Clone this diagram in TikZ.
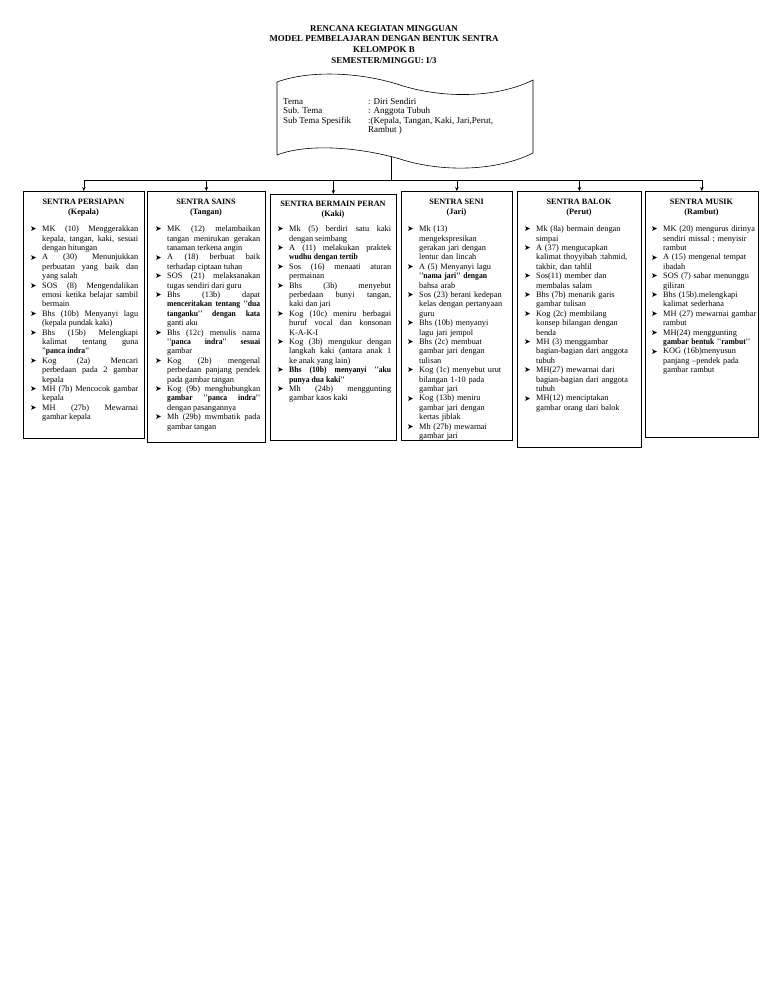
\documentclass[tikz,border=0pt]{standalone}
\usepackage{fontspec}
\setmainfont{Liberation Serif}
\newfontfamily\djv{DejaVu Sans}
\newfontfamily\cbf{Liberation Serif}[FakeStretch=0.92]
\usetikzlibrary{arrows.meta}
\tolerance=10000
\hyphenpenalty=10000
\exhyphenpenalty=10000
\newcommand{\bul}{\raisebox{-0.3pt}{\djv\fontsize{7.8}{7}\selectfont ➤}}
\newcommand{\itm}{\par\hangindent=12pt\hangafter=1\noindent\makebox[12pt][l]{\bul}}
\newcommand{\bt}[1]{{\cbf\bfseries #1}}
\newcommand{\bodyfont}{\fontsize{8.3}{9.4}\selectfont\spaceskip=0.25em plus 2em minus 0.12em}
\tikzset{
  frame/.style={draw, line width=0.7pt, anchor=north west, inner sep=0pt},
  hd/.style={font=\bfseries\fontsize{8.2}{10}\selectfont, align=center, anchor=north, inner sep=0pt},
  lstj/.style={font=\bodyfont, align=justify, anchor=north west, inner sep=0pt},
  lstr/.style={font=\bodyfont, align=left, anchor=north west, inner sep=0pt},
  conn/.style={line width=0.7pt},
  arr/.style={line width=0.7pt, -{Stealth[length=4pt,width=3.5pt]}},
  ttl/.style={font=\bfseries\fontsize{8.9}{10.8}\selectfont, align=center, anchor=north, inner sep=0pt},
  tema/.style={font=\fontsize{9}{9.5}\selectfont, align=left, anchor=north west, inner sep=0pt}
}
\begin{document}
\begin{tikzpicture}[x=1pt,y=-1pt]
\useasboundingbox (0,0) rectangle (768,1002);
% title
\node[ttl] (title) at (384,25) {RENCANA KEGIATAN MINGGUAN\\MODEL PEMBELAJARAN DENGAN BENTUK SENTRA\\KELOMPOK B\\SEMESTER/MINGGU: I/3};
% document shape
\draw[line width=0.6pt] (277,82) .. controls (310,70) and (360,72) .. (400,85)
  .. controls (440,98) and (495,99) .. (533,80) -- (533,153)
  .. controls (495,172) and (440,172) .. (400,159)
  .. controls (355,146) and (305,144) .. (277,155) -- cycle;
\coordinate (docbot) at (391,157);
\node[tema] (temaL) at (283,98) {Tema\\Sub. Tema\\Sub Tema Spesifik};
\node[tema] (temaR) at (368,98) {: Diri Sendiri\\: Anggota Tubuh\\:(Kepala, Tangan, Kaki, Jari,Perut,\\Rambut )};
% boxes
\node[frame, minimum width=121pt, minimum height=247pt] (b1) at (23,191) {};
\node[frame, minimum width=118pt, minimum height=251pt] (b2) at (147,191) {};
\node[frame, minimum width=126pt, minimum height=246pt] (b3) at (270,194) {};
\node[frame, minimum width=111pt, minimum height=249pt] (b4) at (401,191) {};
\node[frame, minimum width=124pt, minimum height=256pt] (b5) at (517,191) {};
\node[frame, minimum width=113pt, minimum height=246pt] (b6) at (645,191) {};
% connectors
\coordinate (hub) at (391,180);
\coordinate (hl) at (83.5,180);
\coordinate (hr) at (701.5,180);
\draw[conn] (docbot) -- (hub);
\draw[conn] (hl) -- (hr);
\foreach \b in {b1,b2,b3,b4,b5,b6}{
  \draw[arr] (\b.north |- hub) -- (\b.north);
}
% headings
\node[hd] (h1) at (83.5,198.5) {SENTRA PERSIAPAN\\(Kepala)};
\node[hd] (h2) at (206,198.5) {SENTRA SAINS\\(Tangan)};
\node[hd] (h3) at (333,201) {SENTRA BERMAIN PERAN\\(Kaki)};
\node[hd] (h4) at (456.5,198.5) {SENTRA SENI\\(Jari)};
\node[hd] (h5) at (579,198.5) {SENTRA BALOK\\(Perut)};
\node[hd] (h6) at (701.5,198.5) {SENTRA MUSIK\\(Rambut)};
% lists
\node[lstj, text width=108pt] (l1) at (30,222) {%
\itm MK (10) Menggerakkan\linebreak kepala, tangan, kaki, sesuai\linebreak dengan hitungan
\itm A (30) Menunjukkan\linebreak perbuatan yang baik dan\linebreak yang salah
\itm SOS (8) Mengendalikan\linebreak emosi ketika belajar sambil\linebreak bermain
\itm Bhs (10b) Menyanyi lagu\linebreak (kepala pundak kaki)
\itm Bhs (15b) Melengkapi\linebreak kalimat tentang guna\linebreak ''\bt{panca indra}''
\itm Kog (2a) Mencari\linebreak perbedaan pada 2 gambar\linebreak kepala
\itm MH (7b) Mencocok gambar\linebreak kepala
\itm MH (27b) Mewarnai\linebreak gambar kepala\par};
\node[lstj, text width=105pt] (l2) at (155,222) {%
\itm MK (12) melambaikan\linebreak tangan menirukan gerakan\linebreak tanaman terkena angin
\itm A (18) berbuat baik\linebreak terhadap ciptaan tuhan
\itm SOS (21) melaksanakan\linebreak tugas sendiri dari guru
\itm Bhs (13b) dapat\linebreak \bt{menceritakan tentang ''dua}\linebreak \bt{tanganku'' dengan kata}\linebreak ganti aku
\itm Bhs (12c) menulis nama\linebreak \bt{''panca indra'' sesuai}\linebreak gambar
\itm Kog (2b) mengenal\linebreak perbedaan panjang pendek\linebreak pada gambar tangan
\itm Kog (9b) menghubungkan\linebreak \bt{gambar ''panca indra''}\linebreak dengan pasangannya
\itm Mh (29b) mwmbatik pada\linebreak gambar tangan\par};
\node[lstj, text width=114pt] (l3) at (277,222) {%
\itm Mk (5) berdiri satu kaki\linebreak dengan seimbang
\itm A (11) melakukan praktek\linebreak \bt{wudhu dengan tertib}
\itm Sos (16) menaati aturan\linebreak permainan
\itm Bhs (3b) menyebut\linebreak perbedaan bunyi tangan,\linebreak kaki dan jari
\itm Kog (10c) meniru berbagai\linebreak huruf vocal dan konsonan\linebreak K-A-K-I
\itm Kog (3b) mengukur dengan\linebreak langkah kaki (antara anak 1\linebreak ke anak yang lain)
\itm \bt{Bhs (10b) menyanyi ''aku}\linebreak \bt{punya dua kaki''}
\itm Mh (24b) menggunting\linebreak gambar kaos kaki\par};
\node[lstr, text width=100pt] (l4) at (407,222) {%
\itm Mk (13)\newline mengekspresikan\newline gerakan jari dengan\newline lentur dan lincah
\itm A (5) Menyanyi lagu\newline \bt{''nama jari'' dengan}\newline bahsa arab
\itm Sos (23) berani kedepan\newline kelas dengan pertanyaan\newline guru
\itm Bhs (10b) menyanyi\newline lagu jari jempol
\itm Bhs (2c) membuat\newline gambar jari dengan\newline tulisan
\itm Kog (1c) menyebut urut\newline bilangan 1-10 pada\newline gambar jari
\itm Kog (13b) meniru\newline gambar jari dengan\newline kertas jiblak
\itm Mh (27b) mewarnai\newline gambar jari\par};
\node[lstr, text width=112pt] (l5) at (524,222) {%
\itm Mk (8a) bermain dengan\newline simpai
\itm A (37) mengucapkan\newline kalimat thoyyibah :tahmid,\newline takbir, dan tahlil
\itm Sos(11) member dan\newline membalas salam
\itm Bhs (7b) menarik garis\newline gambar tulisan
\itm Kog (2c) membilang\newline konsep bilangan dengan\newline benda
\itm MH (3) menggambar\newline bagian-bagian dari anggota\newline tubuh
\itm MH(27) mewarnai dari\newline bagian-bagian dari anggota\newline tubuh
\itm MH(12) menciptakan\newline gambar orang dari balok\par};
\node[lstr, text width=106pt] (l6) at (651,222) {%
\itm MK (20) mengurus dirinya\newline sendiri missal ; menyisir\newline rambut
\itm A (15) mengenal tempat\newline ibadah
\itm SOS (7) sabar menunggu\newline giliran
\itm Bhs (15b).melengkapi\newline kalimat sederhana
\itm MH (27) mewarnai gambar\newline rambut
\itm MH(24) menggunting\newline \bt{gambar bentuk ''rambut''}
\itm KOG (16b)menyusun\newline panjang –pendek pada\newline gambar rambut\par};
\end{tikzpicture}
\end{document}
